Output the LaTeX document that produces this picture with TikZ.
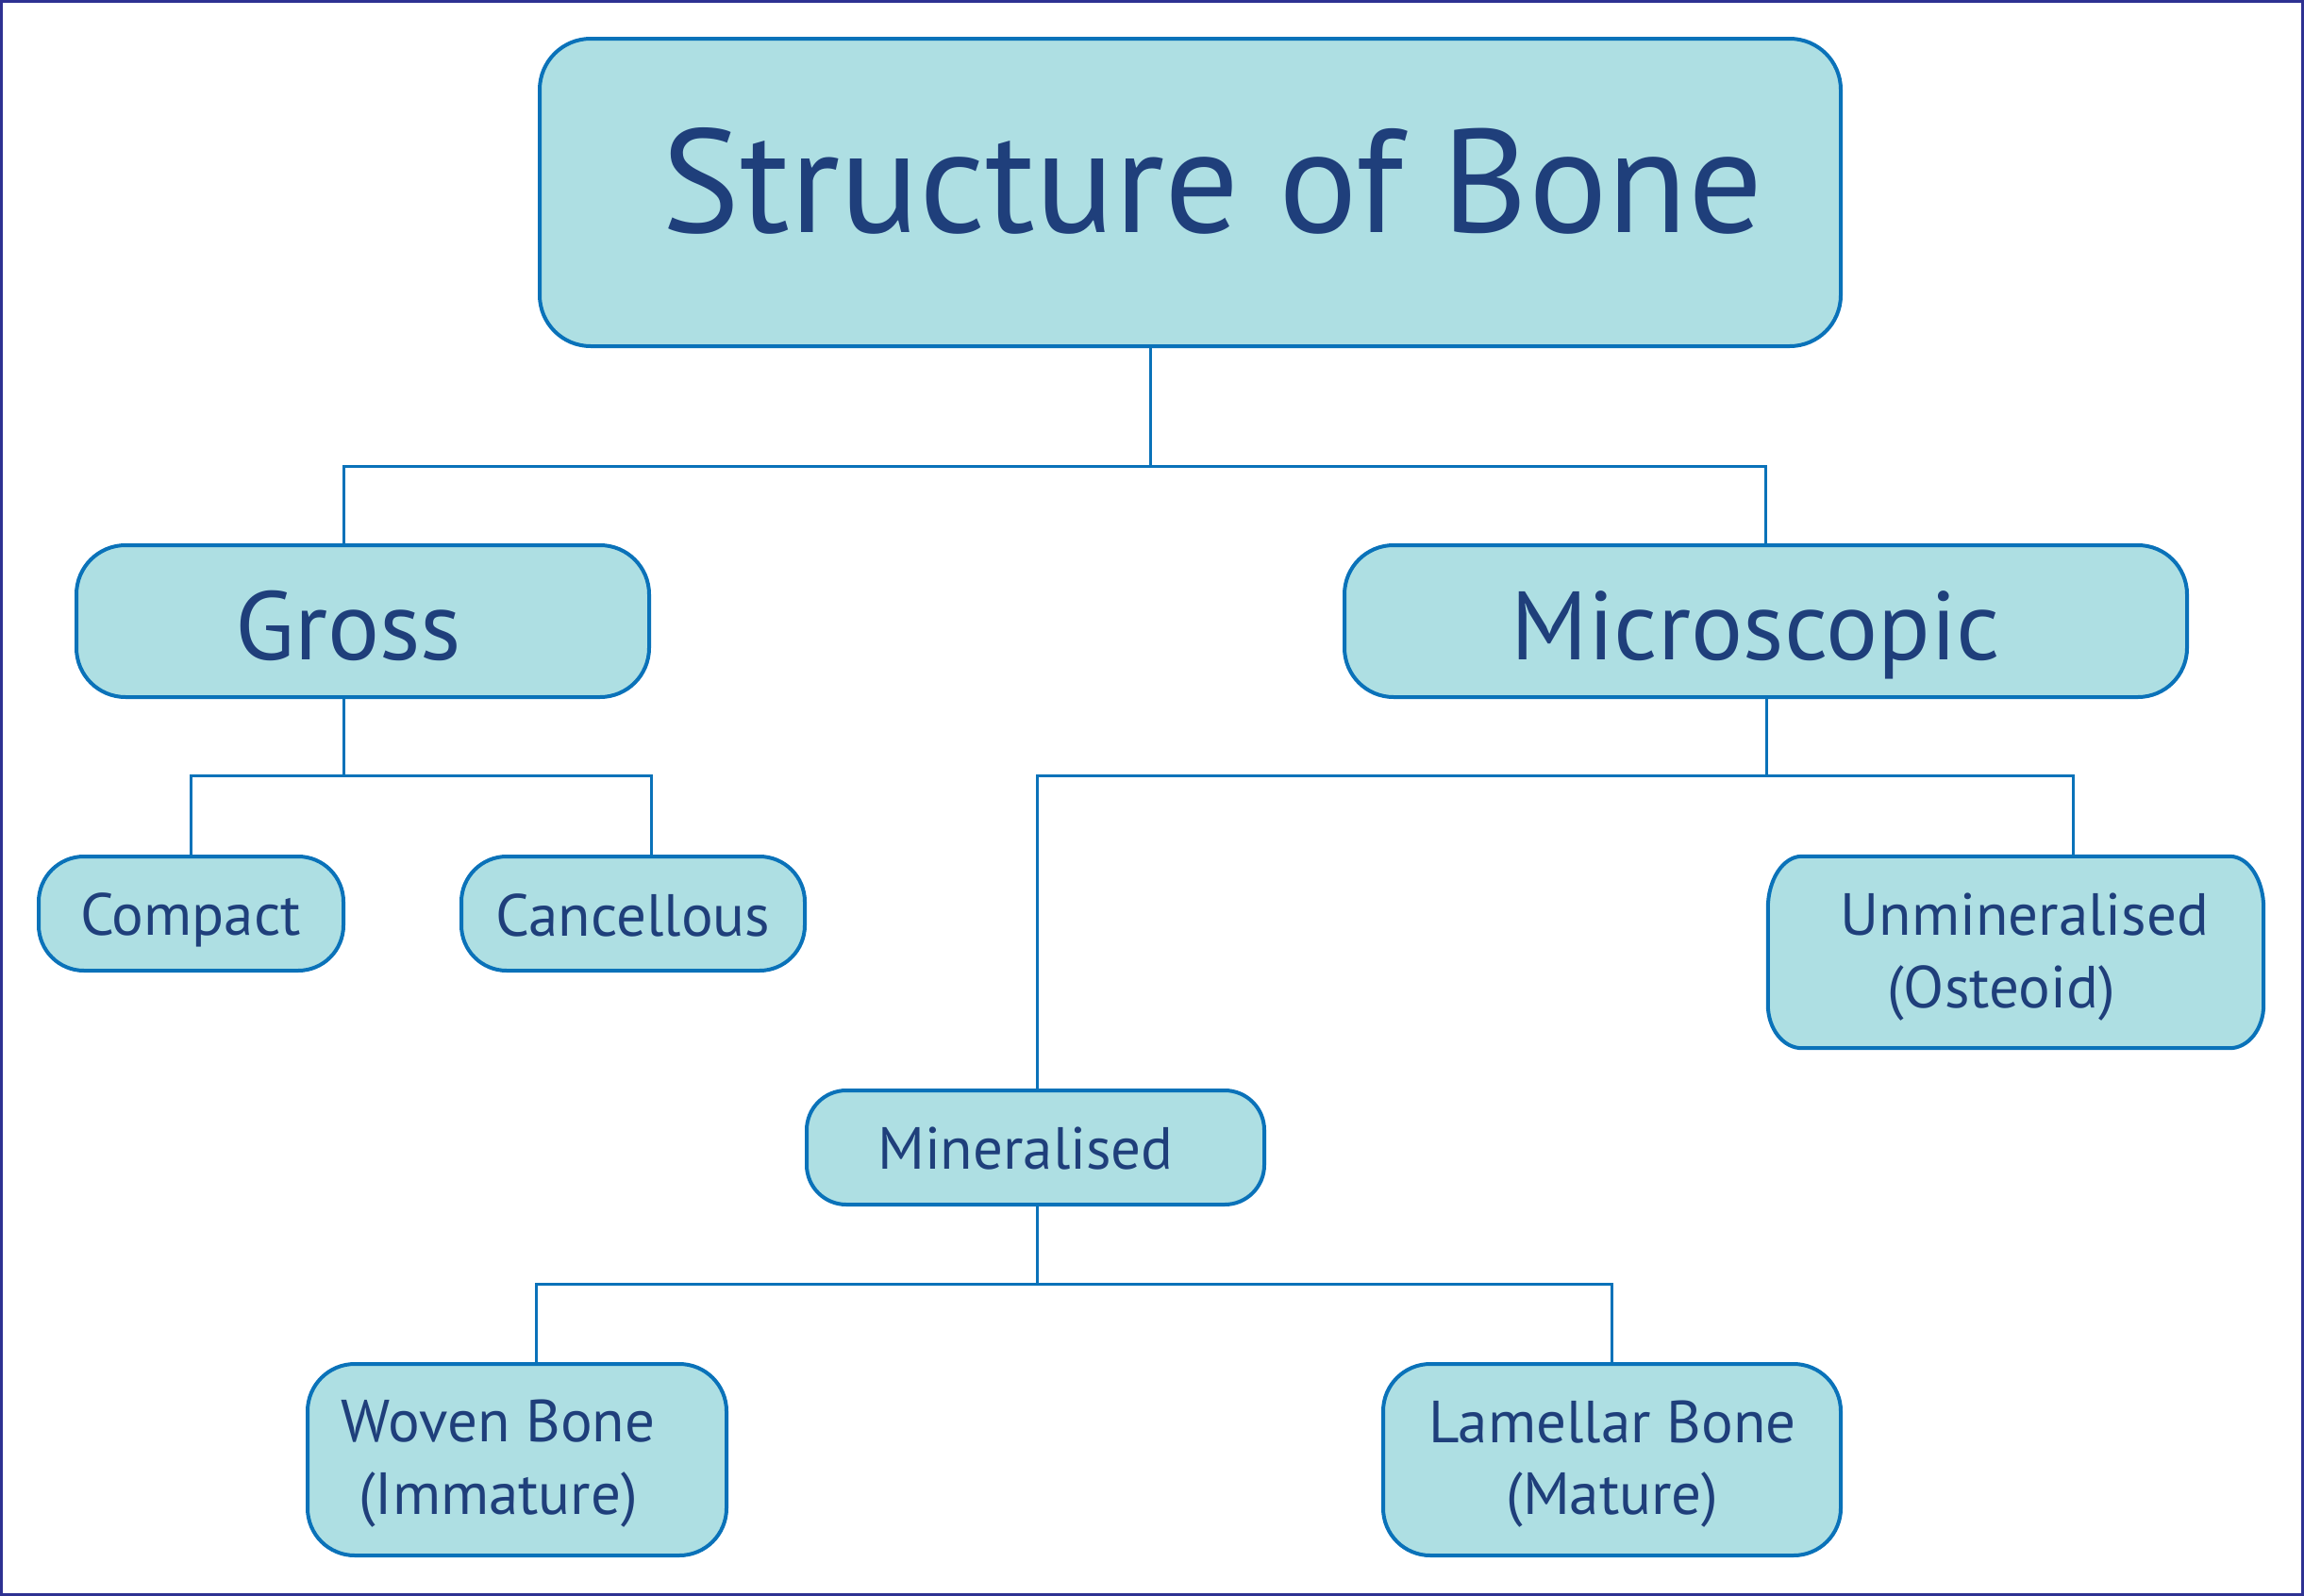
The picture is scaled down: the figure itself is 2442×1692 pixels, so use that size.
\documentclass[tikz,border=0pt]{standalone}
\usepackage{fontspec}
\setmainfont{PT Sans}
\definecolor{boxfill}{HTML}{AEDFE3}
\definecolor{boxline}{HTML}{0A72B9}
\definecolor{txt}{HTML}{1F3F7B}
\definecolor{framecol}{HTML}{2E3192}
\begin{document}
\begin{tikzpicture}[x=1pt,y=-1pt,
  box/.style={draw=boxline, fill=boxfill, line width=4pt, inner sep=0pt, rectangle},
  conn/.style={draw=boxline, line width=3pt},
  lbl/.style={text=txt, anchor=base, inner sep=0pt, font=\fontsize{63}{70}\selectfont},
  big/.style={lbl, font=\fontsize{103}{110}\selectfont},
  huge/.style={lbl, font=\fontsize{156}{160}\selectfont},
]
\useasboundingbox (0,0) rectangle (2442,1692);
\draw[framecol, line width=3pt] (1.5,1.5) rectangle (2440.5,1690.5);

% boxes
\node[box, rounded corners=54pt, minimum width=1379pt, minimum height=326pt] (title) at (1261.5,204) {};
\node[box, rounded corners=52pt, minimum width=607pt, minimum height=161pt] (gross) at (384.5,658.5) {};
\node[box, rounded corners=52pt, minimum width=893pt, minimum height=161pt] (micro) at (1871.5,658.5) {};
\node[box, rounded corners=48pt, minimum width=323pt, minimum height=121pt] (compact) at (202.5,968.5) {};
\node[box, rounded corners=48pt, minimum width=364pt, minimum height=121pt] (cancel) at (671,968.5) {};
\node[inner sep=0pt, minimum width=525pt, minimum height=203pt] (unmin) at (2136.5,1009.5) {};
\draw[draw=boxline, fill=boxfill, line width=4pt]
  ([xshift=36pt]unmin.north west) -- ([xshift=-36pt]unmin.north east)
  arc[start angle=90, end angle=0, x radius=36pt, y radius=55pt]
  -- ([yshift=46pt]unmin.south east)
  arc[start angle=0, end angle=-90, x radius=36pt, y radius=46pt]
  -- ([xshift=36pt]unmin.south west)
  arc[start angle=-90, end angle=-180, x radius=36pt, y radius=46pt]
  -- ([yshift=-55pt]unmin.north west)
  arc[start angle=180, end angle=90, x radius=36pt, y radius=55pt]
  -- cycle;
\node[box, rounded corners=42pt, minimum width=485pt, minimum height=121pt] (mineral) at (1097.5,1216.5) {};
\node[box, rounded corners=50pt, minimum width=444pt, minimum height=203pt] (woven) at (548,1547.5) {};
\node[box, rounded corners=50pt, minimum width=485pt, minimum height=203pt] (lamellar) at (1708.5,1547.5) {};

% texts
\node[huge] (titleT) at (1285,246) {Structure of Bone};
\node[big] (grossT) at (369,699) {Gross};
\node[big] (microT) at (1861,699) {Microscopic};
\node[lbl] (compactT) at (202,991) {Compact};
\node[lbl] (cancelT) at (671,992) {Cancellous};
\node[lbl] (unminT1) at (2146,991) {Unmineralised};
\node[lbl] (unminT2) at (2121,1068) {(Osteoid)};
\node[lbl] (mineralT) at (1087,1239) {Mineralised};
\node[lbl] (wovenT1) at (528,1528) {Woven Bone};
\node[lbl] (wovenT2) at (528,1605) {(Immature)};
\node[lbl] (lamT1) at (1709,1529) {Lamellar Bone};
\node[lbl] (lamT2) at (1709,1605) {(Mature)};

% connectors
\coordinate (j0) at (1219,494);
\coordinate (gx) at (364,0);
\coordinate (gb) at (364,822);
\coordinate (cx) at (690,0);
\coordinate (mb) at (1872,822);
\coordinate (ux) at (2197,0);
\coordinate (nb) at (1099,1361);
\coordinate (wx) at (568,0);

\draw[conn] (title.south -| j0) -- (j0);
\draw[conn] (gx |- gross.north) |- (j0) -| (micro.north);
\draw[conn] (gross.south -| gb) -- (gb);
\draw[conn] (compact.north) |- (gb) -| (cx |- cancel.north);
\draw[conn] (micro.south -| mb) -- (mb);
\draw[conn] (nb |- mineral.north) |- (mb) -| (ux |- unmin.north);
\draw[conn] (mineral.south -| nb) -- (nb);
\draw[conn] (wx |- woven.north) |- (nb) -| (lamellar.north);
\end{tikzpicture}
\end{document}
